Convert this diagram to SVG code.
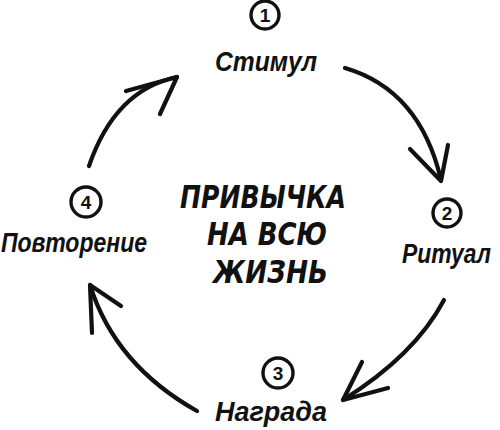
<svg xmlns="http://www.w3.org/2000/svg" width="500" height="430" viewBox="0 0 500 430">
  <style>
    .lbl { font-family: "Liberation Sans", "DejaVu Sans", sans-serif; font-style: italic; font-weight: bold; font-size: 27px; fill: #111; }
    .num { font-family: "Liberation Sans", "DejaVu Sans", sans-serif; font-weight: bold; font-size: 19px; fill: #111; text-anchor: middle; }
    .ring { fill: none; stroke: #111; stroke-width: 3.4; }
    .title { font-family: "DejaVu Sans", "Liberation Sans", sans-serif; font-weight: bold; font-size: 32px; fill: #111; font-style: italic; }
    .arc { fill: none; stroke: #111; stroke-width: 4.2; stroke-linecap: round; stroke-linejoin: round; }
  </style>
  <rect width="500" height="430" fill="#ffffff"/>

  <g id="title">
    <text class="title" x="180" y="208" textLength="166" lengthAdjust="spacingAndGlyphs">ПРИВЫЧКА</text>
    <text class="title" x="207" y="245" textLength="120" lengthAdjust="spacingAndGlyphs">НА ВСЮ</text>
    <text class="title" x="213" y="283" textLength="115" lengthAdjust="spacingAndGlyphs">ЖИЗНЬ</text>
  </g>

  <g id="node1">
    <circle class="ring" cx="265" cy="15" r="14"/>
    <text class="num" x="265" y="22">1</text>
    <text class="lbl" x="215" y="71" textLength="102" lengthAdjust="spacingAndGlyphs">Стимул</text>
  </g>

  <g id="node2">
    <circle class="ring" cx="447" cy="213" r="14"/>
    <text class="num" x="447" y="220">2</text>
    <text class="lbl" x="402" y="263" font-size="26" textLength="89" lengthAdjust="spacingAndGlyphs">Ритуал</text>
  </g>

  <g id="node3">
    <circle class="ring" cx="278" cy="373" r="15"/>
    <text class="num" x="278" y="380">3</text>
    <text class="lbl" x="215" y="421" textLength="112" lengthAdjust="spacingAndGlyphs">Награда</text>
  </g>

  <g id="node4">
    <circle class="ring" cx="86" cy="202" r="15"/>
    <text class="num" x="86" y="209">4</text>
    <text class="lbl" x="1" y="252" textLength="146" lengthAdjust="spacingAndGlyphs">Повторение</text>
  </g>

  <g id="connectors">
    <path class="arc" d="M345 68 Q420 90 441 180"/>
    <polyline class="arc" points="410,149 441,181 448,145"/>

    <path class="arc" d="M444 300 Q415 355 343 400"/>
    <polyline class="arc" points="362,362 343,400 388,388"/>

    <path class="arc" d="M197 411 Q115 365 90 285"/>
    <polyline class="arc" points="92,333 90,285 121,306"/>

    <path class="arc" d="M89 166 Q115 90 177 77"/>
    <polyline class="arc" points="126,91 177,77 160,114"/>
  </g>
</svg>
